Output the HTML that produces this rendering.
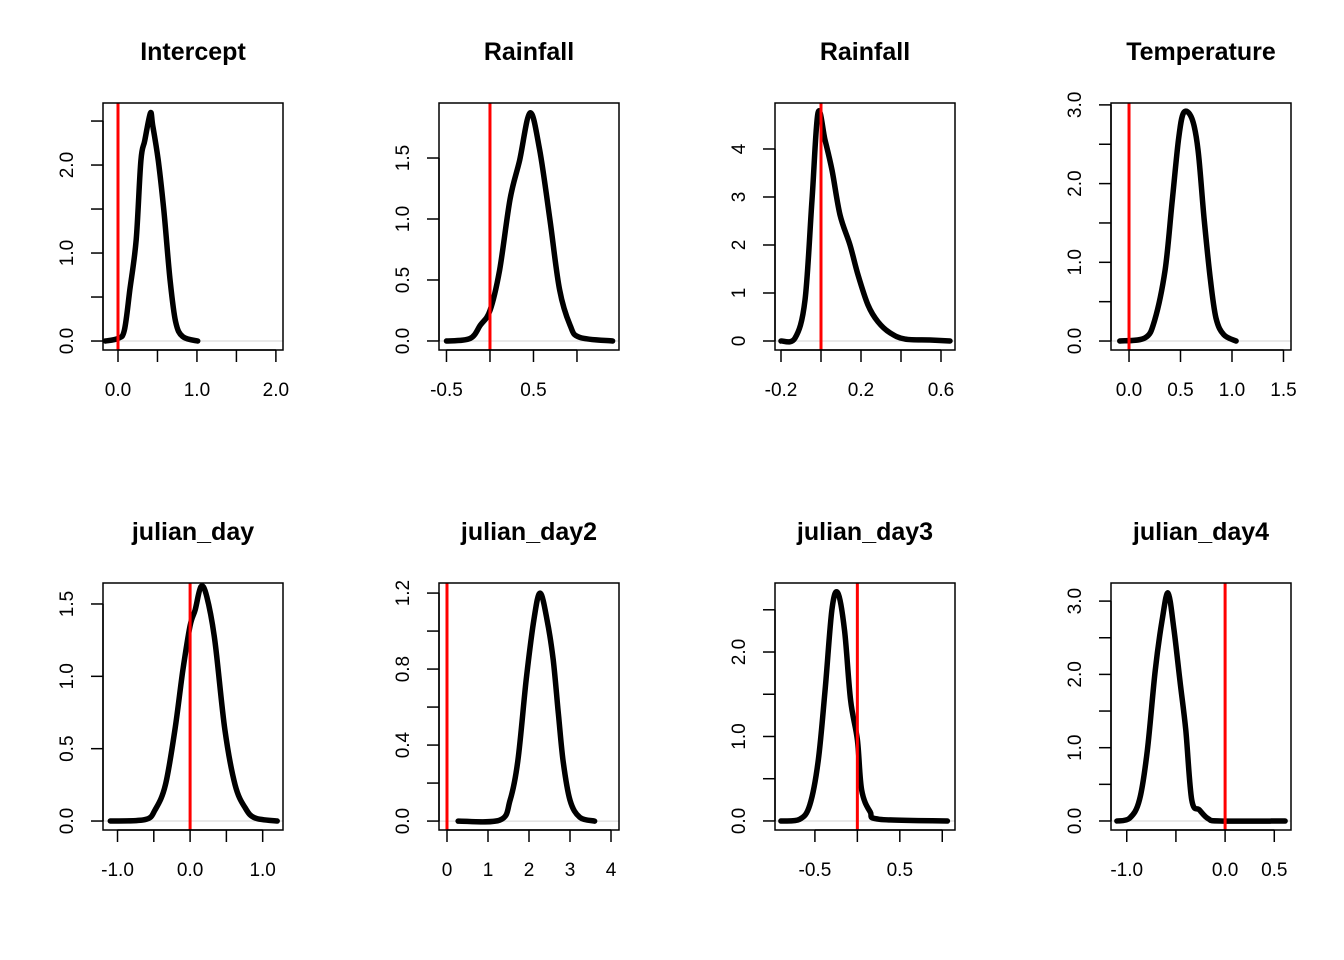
<!DOCTYPE html>
<html><head><meta charset="utf-8"><style>
html,body{margin:0;padding:0;background:#fff;}
svg{display:block;font-family:"Liberation Sans",Arial,sans-serif;}
</style></head><body>
<svg id="chart" width="1344" height="960" viewBox="0 0 1344 960"></svg>
<script>
const titles = ["Intercept","Rainfall","Rainfall","Temperature","julian_day","julian_day2","julian_day3","julian_day4"];
const refLine = [0,0,0,0,0,0,0,0];
const p1X=[-0.16,0,0.08,0.15,0.23,0.29,0.34,0.41,0.44,0.51,0.58,0.66,0.73,0.82,1.01];
const p1Y=[0,0.03,0.12,0.58,1.15,2.05,2.28,2.59,2.45,2.05,1.49,0.69,0.22,0.05,0];
const p2X=[-0.5,-0.23,-0.11,0,0.11,0.23,0.34,0.46,0.57,0.69,0.8,0.92,1.03,1.41];
const p2Y=[0,0.02,0.13,0.25,0.58,1.16,1.48,1.87,1.57,0.99,0.42,0.13,0.03,0];
const p3X=[-0.2,-0.13,-0.08,-0.045,-0.015,0.02,0.055,0.095,0.145,0.185,0.235,0.285,0.345,0.42,0.545,0.645];
const p3Y=[0,0.06,0.85,2.94,4.75,4.19,3.56,2.63,2.0,1.38,0.75,0.4,0.17,0.04,0.02,0];
const p4X=[-0.09,0.155,0.25,0.35,0.42,0.48,0.53,0.61,0.67,0.73,0.79,0.845,0.92,1.04];
const p4Y=[0,0.04,0.27,0.9,1.79,2.55,2.9,2.83,2.43,1.54,0.78,0.29,0.08,0];
const p5X=[-1.1,-0.62,-0.48,-0.34,-0.21,-0.1,0,0.07,0.15,0.23,0.34,0.48,0.62,0.76,0.9,1.2];
const p5Y=[0,0.01,0.08,0.25,0.63,1.04,1.35,1.46,1.62,1.55,1.25,0.63,0.25,0.09,0.02,0];
const p6X=[0.27,1.29,1.54,1.73,1.93,2.12,2.27,2.44,2.59,2.71,2.83,3.0,3.24,3.6];
const p6Y=[0,0.005,0.11,0.32,0.74,1.06,1.2,1.06,0.85,0.58,0.32,0.11,0.02,0];
const p7X=[-0.9,-0.68,-0.56,-0.46,-0.38,-0.3,-0.23,-0.15,-0.08,0,0.05,0.15,0.26,1.06];
const p7Y=[0,0.02,0.19,0.72,1.55,2.5,2.7,2.25,1.43,0.96,0.37,0.11,0.02,0];
const p8X=[-1.1,-0.97,-0.87,-0.79,-0.71,-0.64,-0.58,-0.52,-0.46,-0.4,-0.34,-0.26,-0.17,-0.05,0.61];
const p8Y=[0,0.04,0.29,0.97,2.06,2.74,3.11,2.61,1.92,1.24,0.29,0.15,0.03,0,0];
const xTicks=[[0,0.5,1,1.5,2],[-0.5,0,0.5,1],[-0.2,0,0.2,0.4,0.6],[0,0.5,1,1.5],[-1,-0.5,0,0.5,1],[0,1,2,3,4],[-0.5,0,0.5,1],[-1,-0.5,0,0.5]];
const xLabels=[["0.0",null,"1.0",null,"2.0"],["-0.5",null,"0.5",null],["-0.2",null,"0.2",null,"0.6"],["0.0","0.5","1.0","1.5"],["-1.0",null,"0.0",null,"1.0"],["0","1","2","3","4"],["-0.5",null,"0.5",null],["-1.0",null,"0.0","0.5"]];
const yTicks=[[0,0.5,1,1.5,2,2.5],[0,0.5,1,1.5],[0,1,2,3,4],[0,0.5,1,1.5,2,2.5,3],[0,0.5,1,1.5],[0,0.2,0.4,0.6,0.8,1.0,1.2],[0,0.5,1,1.5,2,2.5],[0,0.5,1,1.5,2,2.5,3]];
const yLabels=[["0.0",null,"1.0",null,"2.0",null],["0.0","0.5","1.0","1.5"],["0","1","2","3","4"],["0.0",null,"1.0",null,"2.0",null,"3.0"],["0.0","0.5","1.0","1.5"],["0.0",null,"0.4",null,"0.8",null,"1.2"],["0.0",null,"1.0",null,"2.0",null],["0.0",null,"1.0",null,"2.0",null,"3.0"]];
const curvesX=[p1X,p2X,p3X,p4X,p5X,p6X,p7X,p8X];
const curvesY=[p1Y,p2Y,p3Y,p4Y,p5Y,p6Y,p7Y,p8Y];
const xDom=[[-0.19,2.09],[-0.586,1.483],[-0.23,0.67],[-0.175,1.573],[-1.2,1.28],[-0.195,4.195],[-0.97,1.15],[-1.16,0.67]];
const yDom=[[-0.102,2.705],[-0.074,1.951],[-0.1875,4.958],[-0.114,3.024],[-0.062,1.645],[-0.047,1.253],[-0.107,2.817],[-0.123,3.247]];

const NS="http://www.w3.org/2000/svg";
const svg=document.getElementById('chart');
function mk(tag,attrs,parent){const e=document.createElementNS(NS,tag);for(const k in attrs)e.setAttribute(k,attrs[k]);parent.appendChild(e);return e;}
function smooth(P){
  let d='M'+P[0][0].toFixed(1)+','+P[0][1].toFixed(1);
  for(let i=0;i<P.length-1;i++){
    const p0=P[Math.max(0,i-1)],p1=P[i],p2=P[i+1],p3=P[Math.min(P.length-1,i+2)];
    const c1x=p1[0]+(p2[0]-p0[0])/6,c1y=p1[1]+(p2[1]-p0[1])/6;
    const c2x=p2[0]-(p3[0]-p1[0])/6,c2y=p2[1]-(p3[1]-p1[1])/6;
    d+=' C'+c1x.toFixed(1)+','+c1y.toFixed(1)+' '+c2x.toFixed(1)+','+c2y.toFixed(1)+' '+p2[0].toFixed(1)+','+p2[1].toFixed(1);
  }
  return d;
}
const colL=[103,439,775,1111], rowT=[103,583], W=180, H=247;
for(let i=0;i<8;i++){
  const L=colL[i%4], T=rowT[Math.floor(i/4)], R=L+W, B=T+H;
  const sx=v=>L+(v-xDom[i][0])/(xDom[i][1]-xDom[i][0])*W;
  const sy=v=>B-(v-yDom[i][0])/(yDom[i][1]-yDom[i][0])*H;
  const g=mk('g',{},svg);
  
  
  const t=mk('text',{x:L+W/2,y:T-43,'text-anchor':'middle','font-size':'25','font-weight':'bold',fill:'#000'},g);
  t.textContent=titles[i];
  
  
  const z=mk('line',{x1:L,x2:R,y1:sy(0),y2:sy(0),stroke:'#d3d3d3','stroke-width':1},g);
  
  
  const P=curvesX[i].map((x,j)=>[sx(x),sy(curvesY[i][j])]);
  const c=mk('path',{d:smooth(P),fill:'none',stroke:'#000','stroke-width':5.5,'stroke-linejoin':'round','stroke-linecap':'round'},g);
  
  
  const r=mk('line',{x1:sx(refLine[i]),x2:sx(refLine[i]),y1:T,y2:B,stroke:'#ff0000','stroke-width':3},g);
  
  
  const box=mk('rect',{x:L,y:T,width:W,height:H,fill:'none',stroke:'#000','stroke-width':1.5},g);
  
  
  const xa=mk('g',{},g);
  
  
  const xt=xTicks[i];
  mk('line',{x1:sx(xt[0]),x2:sx(xt[xt.length-1]),y1:B,y2:B,stroke:'#000','stroke-width':1.5},xa);
  xt.forEach((v,j)=>{
    mk('line',{x1:sx(v),x2:sx(v),y1:B,y2:B+12,stroke:'#000','stroke-width':1.5},xa);
    if(xLabels[i][j]!==null){const tx=mk('text',{x:sx(v),y:B+46,'text-anchor':'middle','font-size':'19',fill:'#000'},xa);tx.textContent=xLabels[i][j];}
  });
  const ya=mk('g',{},g);
  
  
  const yt=yTicks[i];
  mk('line',{x1:L,x2:L,y1:sy(yt[0]),y2:sy(yt[yt.length-1]),stroke:'#000','stroke-width':1.5},ya);
  yt.forEach((v,j)=>{
    mk('line',{x1:L-12,x2:L,y1:sy(v),y2:sy(v),stroke:'#000','stroke-width':1.5},ya);
    if(yLabels[i][j]!==null){const X=L-30,Y=sy(v);const ty=mk('text',{x:X,y:Y,'text-anchor':'middle','font-size':'19',fill:'#000',transform:'rotate(-90 '+X+' '+Y+')'},ya);ty.textContent=yLabels[i][j];}
  });
}
</script>
</body></html>
